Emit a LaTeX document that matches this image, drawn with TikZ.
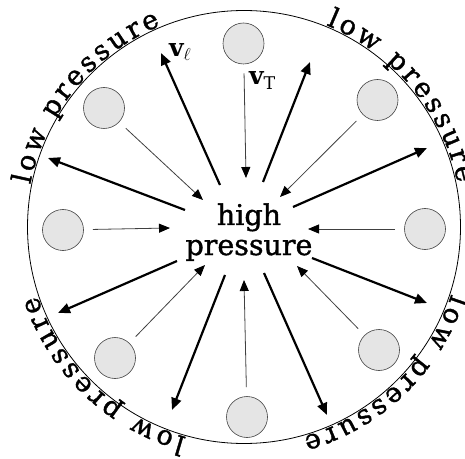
\documentclass[tikz,border=0pt]{standalone}
\usepackage{fontspec}
\setmainfont{DejaVu Serif}
\newfontfamily\heavyserif{DejaVu Serif}[FakeBold=1.3]
\usetikzlibrary{arrows.meta,calc}
\newlength\wL \newlength\wO \newlength\wW \newlength\wSp \newlength\wP
\newlength\wR \newlength\wE \newlength\wS \newlength\wU
\newcommand\arcfont{\heavyserif\fontsize{27}{30}\selectfont}
\newcommand\midfont{\heavyserif\fontsize{28.5}{31}\selectfont}
\newcommand\velfont{\fontsize{25}{28}\selectfont}
\def\trk{3.4}
\newcommand\lowpr{l/\nL,o/\nO,w/\nW,~/\nSp,p/\nP,r/\nR,e/\nE,s/\nS,s/\nS,u/\nU,r/\nR,e/\nE}
\newcommand\arclabel[3]{%
  \gdef\totw{0}%
  \foreach \letr/\cwid in \lowpr {%
    \pgfmathsetmacro\tmpw{\totw+\cwid+\trk}%
    \xdef\totw{\tmpw}%
  }%
  \pgfmathsetmacro\startang{#2+(\totw-\trk)/2/#3*180/pi}%
  \gdef\cum{0}%
  \foreach \letr/\cwid [count=\k] in \lowpr {%
    \pgfmathsetmacro\ang{\startang-(\cum+\cwid/2)/#3*180/pi}%
    \node[arcletter,rotate=\ang-90] (#1-\k) at ($(O)+(\ang:#3)$) {\letr};
    \pgfmathsetmacro\tmpw{\cum+\cwid+\trk}%
    \xdef\cum{\tmpw}%
  }%
}
\begin{document}
\settowidth\wL{\arcfont l}\edef\nL{\the\wL}%
\settowidth\wO{\arcfont o}\edef\nO{\the\wO}%
\settowidth\wW{\arcfont w}\edef\nW{\the\wW}%
\settowidth\wSp{\arcfont l~l}\addtolength\wSp{-2\wL}\edef\nSp{\the\wSp}%
\settowidth\wP{\arcfont p}\edef\nP{\the\wP}%
\settowidth\wR{\arcfont r}\edef\nR{\the\wR}%
\settowidth\wE{\arcfont e}\edef\nE{\the\wE}%
\settowidth\wS{\arcfont s}\edef\nS{\the\wS}%
\settowidth\wU{\arcfont u}\edef\nU{\the\wU}%
\begin{tikzpicture}[x=1pt,y=1pt,
  particle/.style={circle,draw=black!75,fill=black!10,line width=0.6pt,minimum size=41pt,inner sep=0pt},
  thinarrow/.style={draw=black!75,line width=0.8pt,-{Triangle[length=11pt,width=9pt,color=black]},shorten <=9pt},
  thickarrow/.style={draw=black,line width=2.2pt,-{Triangle[length=12pt,width=10pt]}},
  arcletter/.style={inner sep=0pt,outer sep=0pt,anchor=base,font=\arcfont},
  midtext/.style={inner sep=0pt,anchor=base,font=\midfont},
  veltext/.style={inner sep=0pt,anchor=base west,font=\velfont}]
\useasboundingbox (0,0) rectangle (465,458);
\coordinate (O) at (244,231);
\draw[line width=0.8pt] (O) circle[radius=216.5];
% particles
\node[particle] (p1) at (243.5,414.5) {};
\node[particle] (p2) at (377.5,358) {};
\node[particle] (p3) at (425,229) {};
\node[particle] (p4) at (379,108) {};
\node[particle] (p5) at (247,41) {};
\node[particle] (p6) at (115,100) {};
\node[particle] (p7) at (63,228) {};
\node[particle] (p8) at (104,350) {};
% thin arrow tips
\coordinate (t1) at (246,280);
\coordinate (t2) at (280,261);
\coordinate (t3) at (308,229);
\coordinate (t4) at (297,192);
\coordinate (t5) at (244,178);
\coordinate (t6) at (205,193);
\coordinate (t7) at (170,230);
\coordinate (t8) at (203,258);
\foreach \i in {1,...,8}{\draw[thinarrow] (p\i) -- (t\i);}
% thick arrows
\coordinate (s1) at (220,273); \coordinate (e1) at (161,405);
\coordinate (s2) at (263,276); \coordinate (e2) at (310,396);
\coordinate (s3) at (293,251); \coordinate (e3) at (427,310);
\coordinate (s4) at (185,248); \coordinate (e4) at (48,300);
\coordinate (s5) at (177,197); \coordinate (e5) at (58,145);
\coordinate (s6) at (225,183); \coordinate (e6) at (172,48);
\coordinate (s7) at (264,185); \coordinate (e7) at (327,43);
\coordinate (s8) at (312,200); \coordinate (e8) at (427,155);
\foreach \i in {1,...,8}{\draw[thickarrow] (s\i) -- (e\i);}
% labels
\node[midtext] (hi) at (249,233) {high};
\node[midtext] (pr) at (249,203) {pressure};
\node[veltext] (vl) at (169,401) {$\mathbf{v}_\ell$};
\node[veltext] (vt) at (249,373) {$\mathbf{v}_\mathrm{T}$};
% arc texts
\arclabel{tr}{39.7}{218}
\arclabel{tl}{140.6}{218}
\arclabel{bl}{226.5}{218}
\arclabel{br}{313.9}{218}
\end{tikzpicture}
\end{document}
